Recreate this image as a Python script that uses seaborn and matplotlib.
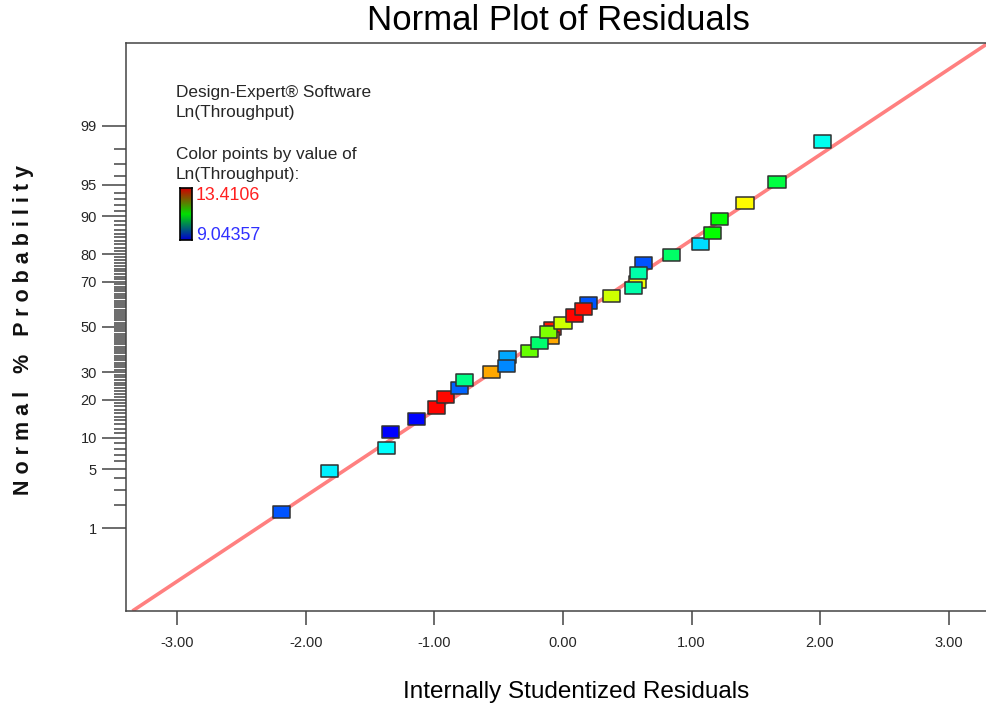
import numpy as np
import pandas as pd
import matplotlib
matplotlib.use("Agg")
import matplotlib.pyplot as plt
import seaborn as sns
from statistics import NormalDist
from matplotlib.path import Path
from matplotlib.colors import LinearSegmentedColormap

# ---------------- data ----------------
# internally studentized residuals (x), normal % probability (y), Ln(Throughput) (colour)
residuals = [-0.082, 0.576, 0.630, 0.195, -0.101, -0.428,
             -2.187, -1.813, -1.377, -1.339, -1.136, -0.981, -0.918, -0.809,
             -0.770, -0.560, -0.436, -0.257, -0.179, -0.109, 0.000, 0.093,
             0.163, 0.381, 0.545, 0.591, 0.848, 1.066, 1.167, 1.214, 1.416,
             1.665, 2.016]
probability_pct = [49.3, 69.9, 77.0, 60.9, 44.9, 36.4,
                   1.64, 4.84, 8.09, 11.24, 14.37, 17.6, 20.9, 24.0,
                   27.0, 30.1, 32.6, 39.1, 42.7, 47.8, 51.8, 55.3,
                   58.2, 64.0, 67.4, 73.4, 79.8, 83.1, 86.1, 89.4, 92.4,
                   95.3, 98.4]
ln_throughput = [13.30, 12.25, 9.41, 9.41, 12.68, 9.77,
                 9.41, 10.08, 10.14, 9.05, 9.07, 13.39, 13.36, 9.48,
                 10.65, 12.68, 9.63, 11.66, 10.76, 11.77, 12.10, 13.38,
                 13.34, 12.10, 10.50, 10.50, 10.79, 9.99, 11.23, 11.23, 12.32,
                 10.94, 10.21]
color_min, color_max = 9.04357, 13.4106

fit_slope, fit_intercept = 0.986, 0.02

prob_major = [1, 5, 10, 20, 30, 50, 70, 80, 90, 95, 99]
prob_minor = [p for p in range(2, 99) if p not in prob_major]
x_ticks = [-3, -2, -1, 0, 1, 2, 3]

# ---------------- style ----------------
sns.set_theme(style="white")
plt.rcParams["font.family"] = ["Liberation Sans", "DejaVu Sans"]

nd = NormalDist()
df = pd.DataFrame({
    "resid": residuals,
    "z": [nd.inv_cdf(p / 100.0) for p in probability_pct],
    "ln": ln_throughput,
})

rainbow = LinearSegmentedColormap.from_list(
    "de_rainbow", ["#0000ff", "#00ffff", "#00ff00", "#ffff00", "#ff0000"])
legend_cmap = LinearSegmentedColormap.from_list(
    "de_legend", ["#0000d0", "#00e000", "#d00000"])

W, H = 987, 707
fig = plt.figure(figsize=(W / 100, H / 100), dpi=100)
ax = fig.add_axes([126 / W, 1 - 611 / H, 874 / W, 568 / H])
ax.set_facecolor("white")

ax.set_xlim(-3.40, 3.40)
zlim = 3.283
ax.set_ylim(-zlim, zlim)

# fitted normal line
ax.axline((0, fit_intercept), slope=fit_slope, color="#ff8080", lw=2.6,
          zorder=1, solid_capstyle="butt")

rect = Path([(-1.4, -1), (1.4, -1), (1.4, 1), (-1.4, 1), (-1.4, -1)],
            [Path.MOVETO, Path.LINETO, Path.LINETO, Path.LINETO, Path.CLOSEPOLY])
sns.scatterplot(data=df, x="resid", y="z", hue="ln", palette=rainbow,
                hue_norm=(color_min, color_max), marker=rect, s=150,
                edgecolor="#303030", linewidth=1.1, legend=False, ax=ax,
                zorder=3)

# axes decorations
ax.set_xticks(x_ticks)
ax.set_xticklabels([f"{t:.2f}" for t in x_ticks], fontsize=10.5)
ax.set_yticks([nd.inv_cdf(p / 100) for p in prob_major])
ax.set_yticklabels([str(p) for p in prob_major], fontsize=10.5)
ax.set_yticks([nd.inv_cdf(p / 100) for p in prob_minor], minor=True)
ax.tick_params(axis="y", which="major", length=17, width=1.1, color="#444444",
               pad=4, left=True, direction="out")
ax.tick_params(axis="y", which="minor", length=8.5, width=1.1, color="#444444",
               left=True, direction="out")
ax.tick_params(axis="x", which="major", length=10, width=1.1, color="#444444",
               pad=8, bottom=True, direction="out")
for side in ["left", "top", "bottom", "right"]:
    ax.spines[side].set_color("#444444")
    ax.spines[side].set_linewidth(1.1)
ax.set_xlabel("")
ax.set_ylabel("")

# titles / labels
fig.text(558 / W, 1 - 21 / H, "Normal Plot of Residuals", fontsize=25,
         ha="center", va="center", color="black")
fig.text(576.5 / W, 1 - 698 / H, "Internally Studentized Residuals",
         fontsize=17.5, ha="center", va="baseline", color="black")
fig.text(24 / W, 1 - 330 / H,
         "N o r m a l   %   P r o b a b i l i t y", fontsize=15.5,
         fontweight="bold", rotation=90, ha="center", va="center",
         color="#111111")

# legend block
lx = 176 / W
fs_leg = 12.4
fig.text(lx, 1 - 97.3 / H, "Design-Expert® Software", fontsize=fs_leg,
         va="baseline", ha="left")
fig.text(lx, 1 - 117.3 / H, "Ln(Throughput)", fontsize=fs_leg,
         va="baseline", ha="left")
fig.text(lx, 1 - 159 / H, "Color points by value of", fontsize=fs_leg,
         va="baseline", ha="left")
fig.text(lx, 1 - 179.3 / H, "Ln(Throughput):", fontsize=fs_leg,
         va="baseline", ha="left")
cax = fig.add_axes([180 / W, 1 - 240 / H, 12 / W, 52 / H])
cax.imshow(np.linspace(1, 0, 100).reshape(-1, 1), aspect="auto",
           cmap=legend_cmap)
cax.set_xticks([])
cax.set_yticks([])
for s in cax.spines.values():
    s.set_color("black")
    s.set_linewidth(1.2)
fig.text(196 / W, 1 - 200 / H, f"{color_max:g}", fontsize=12.8,
         color="#ff2020", va="baseline", ha="left")
fig.text(196 / W, 1 - 240 / H, f"{color_min:g}", fontsize=12.8,
         color="#3030ff", va="baseline", ha="left")

fig.savefig("out.png", dpi=100, facecolor="white")
